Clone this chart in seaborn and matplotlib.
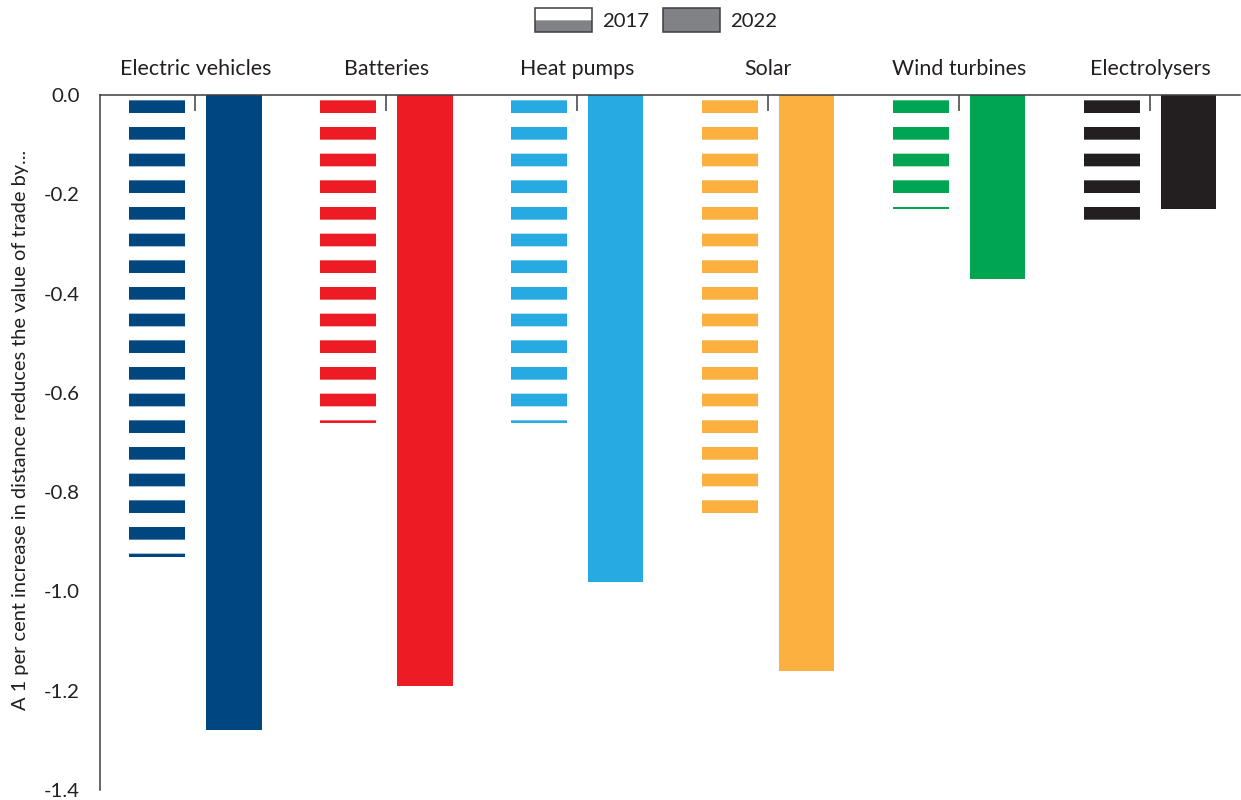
import pandas as pd
import matplotlib
matplotlib.use('Agg')
import matplotlib.pyplot as plt
import seaborn as sns
from matplotlib.patches import Patch

# values
categories = ['Electric vehicles', 'Batteries', 'Heat pumps', 'Solar', 'Wind turbines', 'Electrolysers']
years = ['2017', '2022']
values_2017 = [-0.93, -0.66, -0.66, -0.87, -0.23, -0.27]
values_2022 = [-1.28, -1.19, -0.98, -1.16, -0.37, -0.23]
colors = ['#00467f', '#ed1c24', '#27aae1', '#fbb040', '#00a551', '#231f20']
yticks = [0.0, -0.2, -0.4, -0.6, -0.8, -1.0, -1.2, -1.4]

df = pd.DataFrame({
    'category': categories * 2,
    'year': [years[0]] * len(categories) + [years[1]] * len(categories),
    'value': values_2017 + values_2022,
})

sns.set_style('white')
plt.rcParams['font.family'] = ['Lato', 'DejaVu Sans']
plt.rcParams['axes.unicode_minus'] = False
plt.rcParams['hatch.linewidth'] = 6.3
plt.rcParams['hatch.color'] = 'white'

axis_col = '#414042'
text_col = '#231f20'
legend_grey = '#808285'

DPI = 160
fig = plt.figure(figsize=(1241 / DPI, 800 / DPI), dpi=DPI)
ax = fig.add_axes([100 / 1241, 10 / 800, 1140 / 1241, 695 / 800])

sns.barplot(data=df, x='category', y='value', hue='year', order=categories,
            hue_order=years, width=0.8, gap=0.27, palette=[legend_grey, legend_grey],
            saturation=1, legend=False, ax=ax)

# colour each bar by category, stripe the 2017 bars
for container, year in zip(ax.containers, years):
    for bar, c in zip(container, colors):
        bar.set_facecolor(c)
        bar.set_linewidth(0)
        if year == '2017':
            bar.set_edgecolor('white')
            bar.set_hatch('-')
        else:
            bar.set_edgecolor(c)

ax.set_xlim(-0.5, 5.47)
ax.set_ylim(-1.4, 0)
ax.set_yticks(yticks)
ax.set_yticklabels([f'{v:.1f}' for v in yticks])
ax.set_xlabel('')
ax.set_ylabel('')

ax.xaxis.tick_top()
ax.tick_params(axis='x', direction='in', length=7.2, width=0.7, color=axis_col,
               pad=7.0, labelsize=9.6, labelcolor=text_col)
ax.tick_params(axis='y', direction='in', length=12.6, width=0.7, color=axis_col,
               pad=9, labelsize=9.2, labelcolor=text_col)
for side in ['right', 'bottom']:
    ax.spines[side].set_visible(False)
for side in ['left', 'top']:
    ax.spines[side].set_color(axis_col)
    ax.spines[side].set_linewidth(0.7)

fig.text(21 / 1241, 1 - 430 / 800,
         'A 1 per cent increase in distance reduces the value of trade by...',
         rotation=90, ha='center', va='center', fontsize=9.0, color=text_col)

h2017 = (Patch(facecolor=legend_grey, edgecolor='white', hatch='-', lw=0),
         Patch(facecolor='none', edgecolor=axis_col, lw=0.7))
h2022 = Patch(facecolor=legend_grey, edgecolor=axis_col, lw=0.7)
fig.legend([h2017, h2022], years, loc='center', bbox_to_anchor=(656 / 1241, 1 - 20 / 800),
           ncol=2, frameon=False, handlelength=2.8, handleheight=1.45,
           handletextpad=0.5, columnspacing=0.7, fontsize=9.1, labelcolor=text_col)

plt.savefig('out.png', dpi=DPI)
plt.close()
